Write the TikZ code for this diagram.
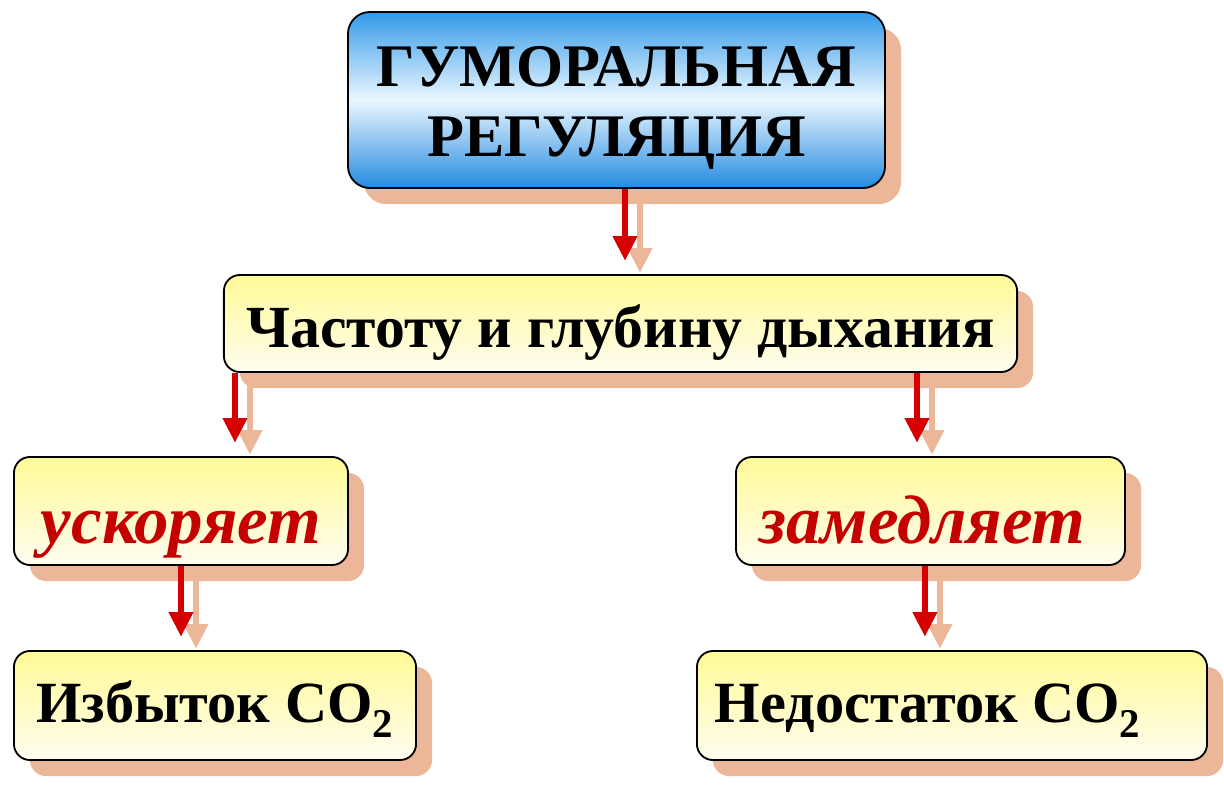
\documentclass[tikz,border=0pt]{standalone}
\usepackage{fontspec}
\setmainfont{Liberation Serif}
\usetikzlibrary{arrows.meta,shadows}
\definecolor{B1}{RGB}{52,154,232}
\definecolor{B2}{RGB}{234,247,255}
\definecolor{B3}{RGB}{36,138,224}
\definecolor{Y1}{RGB}{255,250,150}
\definecolor{Y2}{RGB}{255,253,240}
\definecolor{S1}{RGB}{236,182,152}
\definecolor{R1}{RGB}{214,0,0}
\definecolor{R2}{RGB}{196,0,0}
\tikzset{
  box/.style={draw=black, line width=1.3pt, rounded corners=0.4cm,
    top color=Y1, bottom color=Y2, inner sep=0pt,
    drop shadow={shadow xshift=0.4cm, shadow yshift=-0.4cm, fill=S1, opacity=1}},
  ital/.style={text=R2, text height=1.65cm, text depth=0.05cm,
    font=\bfseries\itshape\fontsize{49}{52}\selectfont},
  rarr/.style={draw=R1, line width=0.17cm, shorten >=0.33cm,
    -{Triangle[width=0.58cm,length=0.62cm]}},
  sarr/.style={rarr, draw=S1, transform canvas={shift={(0.375cm,-0.3cm)}}}
}
\begin{document}
\begin{tikzpicture}[x=0.025cm, y=-0.025cm]
  \useasboundingbox (0,0) rectangle (1224,784);
  % boxes
  \node[box, top color=B1, bottom color=B3, middle color=B2, rounded corners=0.55cm,
    minimum width=13.425cm, minimum height=4.4cm, align=center,
    font=\bfseries\fontsize{43}{50}\selectfont] (top) at (616.5,100)
    {\rule{0pt}{1.4cm}ГУМОРАЛЬНАЯ\\РЕГУЛЯЦИЯ};
  \node[box, minimum width=19.825cm, minimum height=2.425cm,
    text height=1.2cm, text depth=0.025cm,
    font=\bfseries\fontsize{42.5}{46}\selectfont] (mid) at (620.5,323.5) {Частоту и глубину дыхания};
  \node[box, ital, minimum width=8.35cm, minimum height=2.7cm] (usk) at (181,511) {ускоряет};
  \node[box, ital, minimum width=9.725cm, minimum height=2.7cm] (zam) at (930.5,511)
    {замедляет\rule{0.4cm}{0pt}};
  \node[box, minimum width=10.05cm, minimum height=2.725cm,
    text height=0.85cm, text depth=0.025cm,
    font=\bfseries\fontsize{41.5}{44}\selectfont] (izb) at (215,705.5) {Избыток CO\textsubscript{2}};
  \node[box, minimum width=12.75cm, minimum height=2.725cm,
    text height=0.85cm, text depth=0.025cm,
    font=\bfseries\fontsize{41.5}{44}\selectfont] (ned) at (952,705.5)
    {Недостаток CO\textsubscript{2}\rule{1.2cm}{0pt}};
  % arrows
  \coordinate (a1) at ([xshift=0.2125cm]top.south);
  \coordinate (a2) at ([xshift=0.3cm]mid.south west);
  \coordinate (a3) at ([xshift=-2.525cm]mid.south east);
  \coordinate (a4) at (usk.south);
  \coordinate (a5) at ([xshift=-0.14cm]zam.south);
  \draw[sarr] (a1) -- (a1 |- mid.north); \draw[rarr] (a1) -- (a1 |- mid.north);
  \draw[sarr] (a2) -- (a2 |- usk.north); \draw[rarr] (a2) -- (a2 |- usk.north);
  \draw[sarr] (a3) -- (a3 |- zam.north); \draw[rarr] (a3) -- (a3 |- zam.north);
  \draw[sarr] (a4) -- (a4 |- izb.north); \draw[rarr] (a4) -- (a4 |- izb.north);
  \draw[sarr] (a5) -- (a5 |- ned.north); \draw[rarr] (a5) -- (a5 |- ned.north);
\end{tikzpicture}
\end{document}
